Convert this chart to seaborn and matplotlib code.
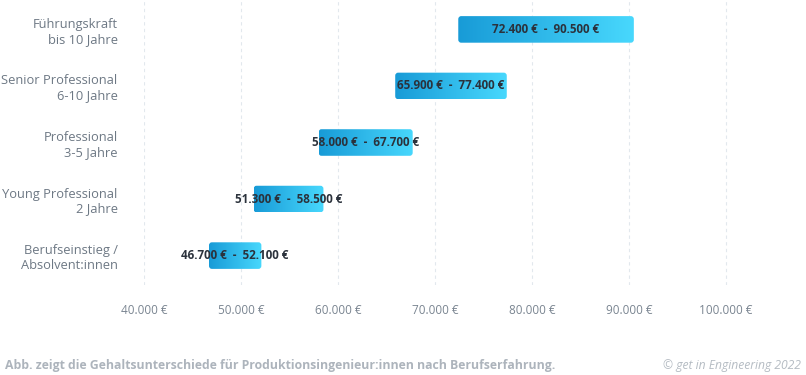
import numpy as np
import pandas as pd
import matplotlib
matplotlib.use("Agg")
import matplotlib.pyplot as plt
from matplotlib.patches import FancyBboxPatch
from matplotlib.colors import LinearSegmentedColormap
import seaborn as sns

# salary ranges per career level
roles = ["Führungskraft\nbis 10 Jahre", "Senior Professional\n6-10 Jahre",
         "Professional\n3-5 Jahre", "Young Professional\n2 Jahre",
         "Berufseinstieg /\nAbsolvent:innen"]
low = [72400, 65900, 58000, 51300, 46700]
high = [90500, 77400, 67700, 58500, 52100]
ticks = [40000, 50000, 60000, 70000, 80000, 90000, 100000]

df = pd.DataFrame({"role": roles, "low": low, "high": high})

def euro(v):
    return f"{v:,.0f}".replace(",", ".") + " €"

sns.set_theme(style="white")
plt.rcParams["font.family"] = ["Open Sans", "DejaVu Sans"]

fig = plt.figure(figsize=(8.06, 3.75), dpi=100)
ax = fig.add_axes([144 / 806, 90 / 375, 1 - 144 / 806, 1 - 90 / 375])

sns.barplot(data=df, x="high", y="role", ax=ax, width=0.47, orient="h")

cmap = LinearSegmentedColormap.from_list("g", ["#189bd7", "#48d8fd"])
grad = np.linspace(0, 1, 256).reshape(1, -1)

for patch, lo, hi in zip(ax.patches, df["low"], df["high"]):
    patch.set_x(lo)
    patch.set_width(hi - lo)
    patch.set_visible(False)
    y0, h = patch.get_y(), patch.get_height()
    box = FancyBboxPatch((lo, y0), hi - lo, h,
                         boxstyle="round,pad=0,rounding_size=300",
                         mutation_aspect=1.8e-4, fc="none", ec="none",
                         transform=ax.transData)
    ax.add_patch(box)
    im = ax.imshow(grad, cmap=cmap, aspect="auto", extent=(lo, hi, y0 + h, y0),
                   interpolation="bilinear", zorder=2)
    im.set_clip_path(box)
    ax.text((lo + hi) / 2, y0 + h / 2, f"{euro(lo)}  -  {euro(hi)}",
            ha="center", va="center", fontsize=8.4, fontweight="bold",
            color="#2b323c", zorder=3)

ax.set_xlim(40000, 108250)
ax.set_ylim(4.52, -0.52)
ax.set_xticks(ticks)
ax.set_xticklabels([euro(t) for t in ticks], fontsize=8.5, color="#7a8591")
ax.tick_params(axis="x", pad=14, length=0)
ax.tick_params(axis="y", pad=19, length=0, labelsize=9.3, labelcolor="#6d7884")
for lbl in ax.get_yticklabels():
    lbl.set_horizontalalignment("right")
    lbl.set_multialignment("right")
ax.set_xlabel("")
ax.set_ylabel("")
ax.xaxis.grid(True, linestyle=(0, (3, 3)), color="#e2e8ed", linewidth=0.8)
ax.set_axisbelow(True)
for s in ax.spines.values():
    s.set_visible(False)

fig.text(5 / 806, 1 - 366 / 375, "Abb. zeigt die Gehaltsunterschiede für Produktionsingenieur:innen nach Berufserfahrung.",
         fontsize=8.8, fontweight="bold", color="#adb4bc", va="center", ha="left")
fig.text(801 / 806, 1 - 366 / 375, "© get in Engineering 2022",
         fontsize=8.7, style="italic", color="#b5bcc3", va="center", ha="right")

fig.savefig("out.png", dpi=100)
